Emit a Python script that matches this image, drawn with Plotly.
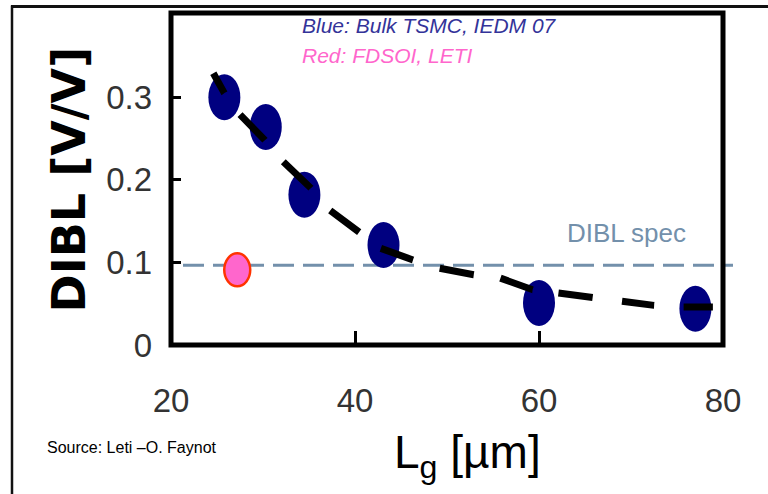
import math
import plotly.graph_objects as go

# ---- data ----
lg_bulk = [25.8, 30.3, 34.5, 43.1, 60.0, 77.0]          # Lg [um], Bulk TSMC
dibl_bulk = [0.300, 0.264, 0.182, 0.121, 0.051, 0.044]  # DIBL [V/V]
lg_fdsoi = [27.2]                                       # FDSOI, LETI
dibl_fdsoi = [0.091]
dibl_spec = 0.0965                                      # DIBL spec level

# dashed trend curve (vertices = dash ends)
trend_lg = [24.6, 25.8, 27.5, 30.2, 32.2, 35.2, 37.3, 40.4, 42.8, 46.3,
            49.2, 52.9, 55.8, 59.3, 62.1, 65.8, 69.0, 72.5, 75.7, 78.9]
trend_dibl = [0.329, 0.305, 0.279, 0.248, 0.222, 0.190, 0.163, 0.136, 0.117, 0.103,
              0.093, 0.085, 0.081, 0.067, 0.063, 0.056, 0.052, 0.048, 0.046, 0.046]

x_ticks = [20, 40, 60, 80]
x_tick_text = ["20", "40", "60", "80"]
y_ticks = [0, 0.1, 0.2, 0.3]
y_tick_text = ["0", "0.1", "0.2", "0.3"]

X_RANGE = [20, 80]
Y_RANGE = [0, 0.402]

# ---- layout geometry ----
W, H = 768, 494
ML, MR, MT, MB = 171, 45, 13, 149
PW, PH = W - ML - MR, H - MT - MB

def px(xv):  # paper helpers for decorations only
    return (xv - ML) / PW

def py(yv):
    return (MT + PH - yv) / PH

# dash pattern: segment lengths along the trend path (alternating on/off)
sx = PW / (X_RANGE[1] - X_RANGE[0])
sy = PH / (Y_RANGE[1] - Y_RANGE[0])
seg = []
for i in range(1, len(trend_lg)):
    dx = (trend_lg[i] - trend_lg[i - 1]) * sx
    dy = (trend_dibl[i] - trend_dibl[i - 1]) * sy
    seg.append(math.hypot(dx, dy))
dash_parts = seg + [400]
dash_str = ",".join(f"{v:.1f}px" for v in dash_parts)

FONT = "Liberation Sans, Arial, sans-serif"

fig = go.Figure()

fig.add_trace(go.Scatter(
    x=trend_lg, y=trend_dibl, mode="lines",
    line=dict(color="black", width=7, dash=dash_str),
    hoverinfo="skip", showlegend=False,
))

shapes = []
for xv, yv in zip(lg_bulk, dibl_bulk):
    shapes.append(dict(type="circle", xref="x", yref="y", layer="below",
                       xsizemode="pixel", ysizemode="pixel",
                       xanchor=xv, yanchor=yv, x0=-16, x1=16, y0=-23, y1=23,
                       fillcolor="#000080", line=dict(width=0)))
# spec line
shapes.append(dict(type="line", xref="paper", yref="y", layer="below",
                   x0=px(183), x1=px(733), y0=dibl_spec, y1=dibl_spec,
                   line=dict(color="#7390ab", width=3, dash="21px,9px")))
for xv, yv in zip(lg_fdsoi, dibl_fdsoi):
    shapes.append(dict(type="circle", xref="x", yref="y", layer="below",
                       xsizemode="pixel", ysizemode="pixel",
                       xanchor=xv, yanchor=yv, x0=-13, x1=13, y0=-16.5, y1=16.5,
                       fillcolor="#ff66cc", line=dict(color="#ff3300", width=2.5)))
# plot frame
shapes.append(dict(type="rect", xref="paper", yref="paper", layer="above",
                   x0=0, x1=1, y0=0, y1=1, line=dict(color="black", width=5)))
# slide border (top and left)
shapes.append(dict(type="line", xref="paper", yref="paper", layer="above",
                   x0=px(11), x1=px(770), y0=py(6.5), y1=py(6.5),
                   line=dict(color="#111", width=3)))
shapes.append(dict(type="line", xref="paper", yref="paper", layer="above",
                   x0=px(12), x1=px(12), y0=py(5.5), y1=py(500),
                   line=dict(color="#111", width=2.5)))

annotations = [
    dict(text="<i>Blue: Bulk TSMC, IEDM 07</i>", xref="paper", yref="paper",
         x=px(300), y=py(25.5), xanchor="left", yanchor="middle", showarrow=False,
         font=dict(family=FONT, size=21, color="#333399")),
    dict(text="<i>Red: FDSOI, LETI</i>", xref="paper", yref="paper",
         x=px(300), y=py(55), xanchor="left", yanchor="middle", showarrow=False,
         font=dict(family=FONT, size=21, color="#ff66cc")),
    dict(text="DIBL spec", xref="paper", yref="paper",
         x=px(626.5), y=py(232.5), xanchor="center", yanchor="middle", showarrow=False,
         font=dict(family=FONT, size=26, color="#7390ab")),
    dict(text="Source: Leti \u2013O. Faynot", xref="paper", yref="paper",
         x=px(45), y=py(447.5), xanchor="left", yanchor="middle", showarrow=False,
         font=dict(family=FONT, size=16, color="black")),
    dict(text="L<sub>g</sub> [\u00b5m]", xref="paper", yref="paper",
         x=px(467.5), y=py(455), xanchor="center", yanchor="middle", showarrow=False,
         font=dict(family=FONT, size=46, color="black")),
    dict(text="<b>DIBL [V/V]</b>", xref="paper", yref="paper", textangle=-90,
         x=px(68.5), y=py(180), xanchor="center", yanchor="middle", showarrow=False,
         font=dict(family="DejaVu Sans", size=46, color="black")),
]

fig.update_layout(
    width=W, height=H,
    margin=dict(l=ML, r=MR, t=MT, b=MB, pad=0),
    paper_bgcolor="white", plot_bgcolor="white",
    showlegend=False,
    shapes=shapes, annotations=annotations,
    xaxis=dict(range=X_RANGE, tickvals=x_ticks, ticktext=x_tick_text,
               showgrid=False, zeroline=False, showline=False,
               ticks="inside", ticklen=14, tickwidth=2.5, tickcolor="black",
               ticklabelstandoff=33,
               tickfont=dict(family=FONT, size=33, color="#333")),
    yaxis=dict(range=Y_RANGE, tickvals=y_ticks, ticktext=y_tick_text,
               showgrid=False, zeroline=False, showline=False,
               ticks="inside", ticklen=10, tickwidth=3, tickcolor="black",
               ticklabelstandoff=18,
               tickfont=dict(family=FONT, size=33, color="#333")),
)

fig.write_html("out.html", config={"displayModeBar": False},
               post_script="document.body.style.margin='0px';")
